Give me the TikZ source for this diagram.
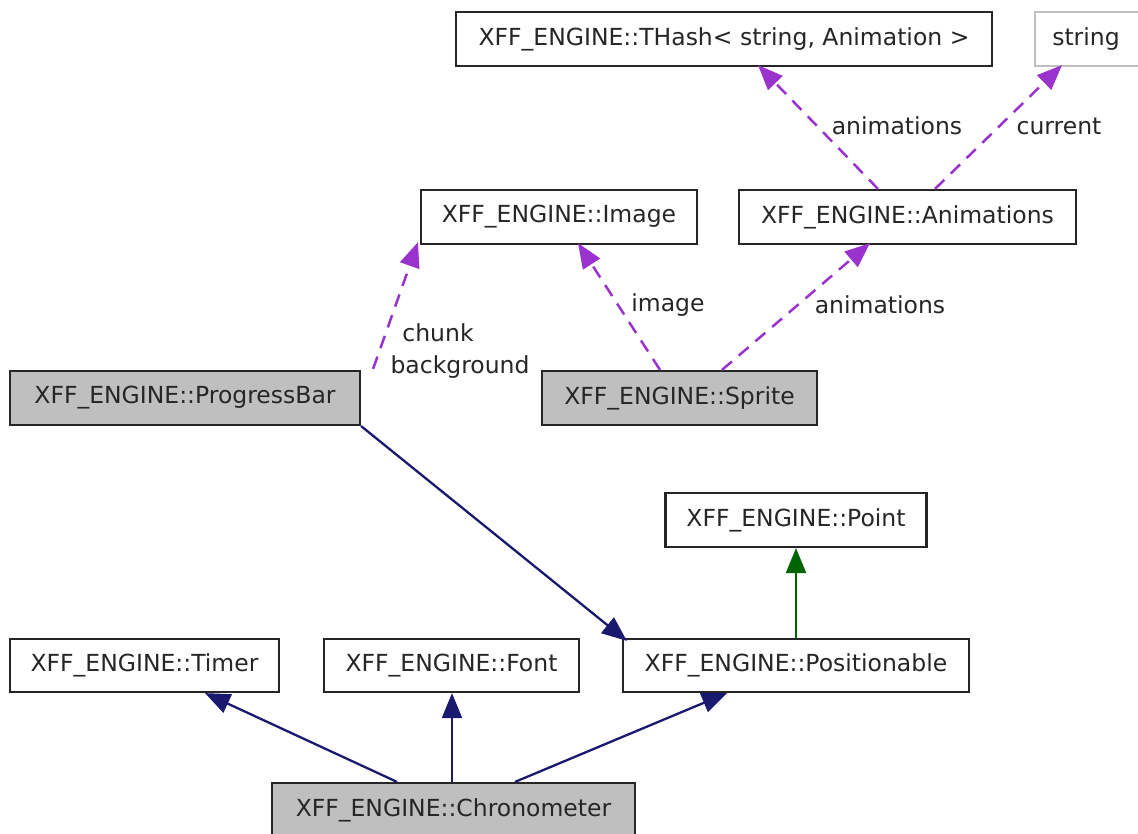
\documentclass[tikz,border=0pt]{standalone}
\usepackage{fontspec}
\setmainfont{DejaVu Sans}
\usetikzlibrary{arrows.meta}
\definecolor{edgepurple}{HTML}{9A32CD}
\definecolor{edgenavy}{HTML}{191970}
\definecolor{edgegreen}{HTML}{006400}
\definecolor{boxgray}{HTML}{BFBFBF}
\definecolor{txt}{HTML}{262626}
\tikzset{
  cls/.style={draw=black!85, line width=2.2pt, fill=white, text=txt, inner sep=0pt,
    font=\fontsize{23.5}{28}\selectfont, minimum height=54pt},
  focus/.style={cls, fill=boxgray},
  ext/.style={cls, draw=boxgray},
  usage/.style={draw=edgepurple, line width=2.5pt, dash pattern=on 13pt off 9pt,
    -{Triangle[length=25pt,width=20pt]}},
  inherit/.style={draw=edgenavy, line width=2.3pt, -{Triangle[length=25pt,width=20pt]}},
  inheritg/.style={draw=edgegreen, line width=2.3pt, -{Triangle[length=25pt,width=20pt]}},
  lbl/.style={text=txt, font=\fontsize{23.5}{28}\selectfont, inner sep=0pt}
}
\begin{document}
\begin{tikzpicture}[x=1pt,y=-1pt]
\useasboundingbox[fill=white] (0,0) rectangle (1138,834);
\node[cls, minimum width=536pt] (thash) at (724,39) {XFF\_ENGINE::THash< string, Animation >};
\node[ext, minimum width=108pt] (string) at (1089,39) {\hspace*{-6pt}string};
\node[cls, minimum width=276pt] (image) at (559,217) {XFF\_ENGINE::Image};
\node[cls, minimum width=337pt] (anim) at (907.5,217) {XFF\_ENGINE::Animations};
\node[focus, minimum width=350pt] (pb) at (185,398) {XFF\_ENGINE::ProgressBar};
\node[focus, minimum width=275pt] (sprite) at (679.5,398) {XFF\_ENGINE::Sprite};
\node[cls, minimum width=261pt] (point) at (796,520) {XFF\_ENGINE::Point};
\node[cls, minimum width=269pt, minimum height=53pt] (timer) at (144.5,665.5) {XFF\_ENGINE::Timer};
\node[cls, minimum width=255pt, minimum height=53pt] (font) at (451.5,665.5) {XFF\_ENGINE::Font};
\node[cls, minimum width=346pt, minimum height=53pt] (pos) at (796,665.5) {XFF\_ENGINE::Positionable};
\node[focus, minimum width=363pt] (chrono) at (453.5,810) {XFF\_ENGINE::Chronometer};

% usage relations
\draw[usage] ([xshift=-29.5pt]anim.north) -- ([xshift=34pt,yshift=2pt]thash.south);
\node[lbl] (l1) at (897,126) {animations};
\draw[usage] ([xshift=27.5pt]anim.north) -- ([xshift=-27pt,yshift=2pt]string.south);
\node[lbl] (l2) at (1059,126) {current};
\draw[usage] ([xshift=12pt,yshift=1pt]pb.north east) -- ([xshift=-141pt,yshift=3pt]image.south);
\node[lbl] (chunk) at (438,333) {chunk};
\node[lbl] (bg) at (460,367) {background};
\draw[usage] ([xshift=-19.5pt]sprite.north) -- ([xshift=19pt,yshift=2pt]image.south);
\node[lbl] (l3) at (668,305) {image};
\draw[usage] ([xshift=42.5pt]sprite.north) -- ([xshift=-37.5pt,yshift=2pt]anim.south);
\node[lbl] (l4) at (880,305) {animations};

% inheritance
\draw[inherit] (pb.south east) -- ([xshift=5pt,yshift=-3pt]pos.north west);
\draw[inheritg] (pos.north) -- (point.south);
\draw[inherit] ([xshift=-56.5pt]chrono.north) -- ([xshift=60.5pt]timer.south);
\draw[inherit] ([xshift=-1.5pt]chrono.north) -- ([xshift=0.5pt]font.south);
\draw[inherit] ([xshift=61.5pt]chrono.north) -- ([xshift=-69pt]pos.south);
\end{tikzpicture}
\end{document}
